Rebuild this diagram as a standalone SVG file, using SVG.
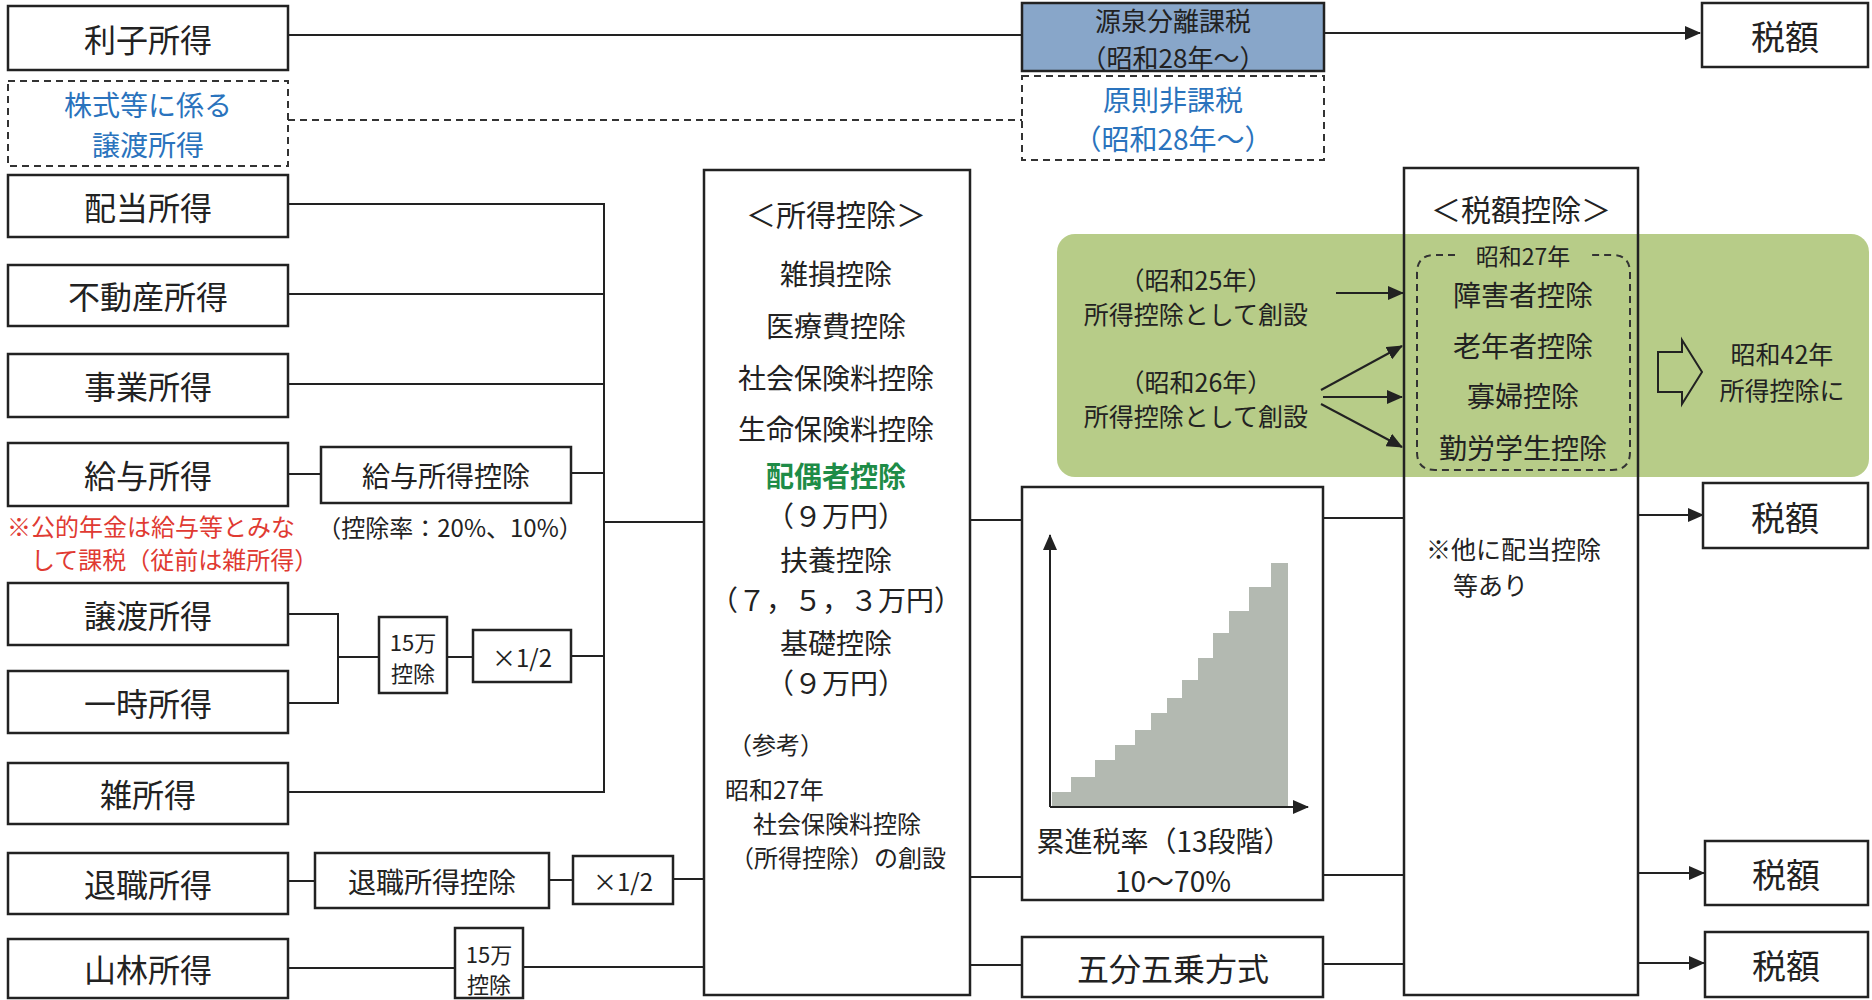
<svg xmlns="http://www.w3.org/2000/svg" width="1872" height="1000" viewBox="0 0 1872 1000">
<style>
.box{fill:#fff;stroke:#222;stroke-width:2.5}
.dbox{fill:#fff;stroke:#333;stroke-width:2;stroke-dasharray:7 5}
.ln{stroke:#222;stroke-width:2;fill:none}
.dln{stroke:#333;stroke-width:2;fill:none;stroke-dasharray:7 5}
.t{font-family:"Noto Sans CJK JP","Noto Sans CJK SC",sans-serif;fill:#222;text-anchor:middle;dominant-baseline:central}
.l{font-size:32px}
.m{font-size:28px}
.s{font-size:24px}
.g{font-size:25px}
.blue{fill:#2a73bd}
.red{fill:#e03a32;text-anchor:start}
</style>
<defs>
<marker id="ah" markerUnits="userSpaceOnUse" markerWidth="16" markerHeight="14" refX="15" refY="7" orient="auto">
<path d="M0,0 L16,7 L0,14 z" fill="#222"/>
</marker>
</defs>
<rect width="1872" height="1000" fill="#fff"/>

<g id="green-area">
<rect x="1057" y="234" width="812" height="243" rx="18" fill="#b7cc88"/>
</g>

<g id="connectors">
<path class="ln" d="M288,35 H1022"/>
<path class="ln" d="M1324,33 H1700" marker-end="url(#ah)"/>
<path class="dln" d="M288,120 H1022"/>
<path class="ln" d="M288,204 H604 V792 H288"/>
<path class="ln" d="M288,294 H604"/>
<path class="ln" d="M288,384 H604"/>
<path class="ln" d="M288,474 H321"/>
<path class="ln" d="M571,473 H604"/>
<path class="ln" d="M288,614 H338 V703 H288"/>
<path class="ln" d="M338,657 H379"/>
<path class="ln" d="M447,657 H473"/>
<path class="ln" d="M571,656 H604"/>
<path class="ln" d="M604,522 H704"/>
<path class="ln" d="M288,881 H315"/>
<path class="ln" d="M549,880 H573"/>
<path class="ln" d="M673,879 H704"/>
<path class="ln" d="M288,968 H455"/>
<path class="ln" d="M523,967 H704"/>
<path class="ln" d="M970,520 H1022"/>
<path class="ln" d="M970,877 H1022"/>
<path class="ln" d="M970,965 H1022"/>
<path class="ln" d="M1323,518 H1404"/>
<path class="ln" d="M1323,875 H1404"/>
<path class="ln" d="M1323,964 H1404"/>
<path class="ln" d="M1638,515 H1703" marker-end="url(#ah)"/>
<path class="ln" d="M1638,873 H1704" marker-end="url(#ah)"/>
<path class="ln" d="M1638,963 H1704" marker-end="url(#ah)"/>
<path class="ln" d="M1336,293 H1403" marker-end="url(#ah)"/>
<path class="ln" d="M1321,390 L1402,346" marker-end="url(#ah)"/>
<path class="ln" d="M1323,397 H1402" marker-end="url(#ah)"/>
<path class="ln" d="M1321,404 L1402,447" marker-end="url(#ah)"/>
</g>

<g id="n-rishi"><rect class="box" x="8" y="6" width="280" height="64"/><text class="t l" x="148" y="38">利子所得</text></g>
<g id="n-kabushiki"><rect class="dbox" x="8" y="81" width="280" height="85"/><text class="t m blue" x="148" y="104">株式等に係る</text><text class="t m blue" x="148" y="144">譲渡所得</text></g>
<g id="n-haito"><rect class="box" x="8" y="175" width="280" height="62"/><text class="t l" x="148" y="206">配当所得</text></g>
<g id="n-fudosan"><rect class="box" x="8" y="265" width="280" height="61"/><text class="t l" x="148" y="295">不動産所得</text></g>
<g id="n-jigyo"><rect class="box" x="8" y="354" width="280" height="63"/><text class="t l" x="148" y="385">事業所得</text></g>
<g id="n-kyuyo"><rect class="box" x="8" y="443" width="280" height="63"/><text class="t l" x="148" y="474">給与所得</text></g>
<g id="n-note"><text class="t s red" x="7" y="525">※公的年金は給与等とみな</text><text class="t s red" x="31" y="558">して課税（従前は雑所得）</text></g>
<g id="n-kyuyokojo"><rect class="box" x="321" y="447" width="250" height="56"/><text class="t m" x="446" y="475">給与所得控除</text><text class="t s" x="450" y="526">（控除率：20%、10%）</text></g>
<g id="n-joto"><rect class="box" x="8" y="583" width="280" height="62"/><text class="t l" x="148" y="614">譲渡所得</text></g>
<g id="n-ichiji"><rect class="box" x="8" y="671" width="280" height="62"/><text class="t l" x="148" y="702">一時所得</text></g>
<g id="n-15man1"><rect class="box" x="379" y="617" width="68" height="76"/><text class="t" style="font-size:22px" x="413" y="641">15万</text><text class="t" style="font-size:22px" x="413" y="672">控除</text></g>
<g id="n-half1"><rect class="box" x="473" y="630" width="98" height="52"/><text class="t s" x="522" y="656">×1/2</text></g>
<g id="n-zatsu"><rect class="box" x="8" y="763" width="280" height="61"/><text class="t l" x="148" y="793">雑所得</text></g>
<g id="n-taishoku"><rect class="box" x="8" y="853" width="280" height="61"/><text class="t l" x="148" y="883">退職所得</text></g>
<g id="n-taishokukojo"><rect class="box" x="315" y="853" width="234" height="55"/><text class="t m" x="432" y="881">退職所得控除</text></g>
<g id="n-half2"><rect class="box" x="573" y="856" width="100" height="48"/><text class="t s" x="623" y="880">×1/2</text></g>
<g id="n-sanrin"><rect class="box" x="8" y="939" width="280" height="59"/><text class="t l" x="148" y="968">山林所得</text></g>
<g id="n-15man2"><rect class="box" x="455" y="928" width="68" height="70"/><text class="t" style="font-size:22px" x="489" y="953">15万</text><text class="t" style="font-size:22px" x="489" y="983">控除</text></g>

<g id="n-gensen"><rect x="1022" y="3" width="302" height="68" fill="#88a6c9" stroke="#222" stroke-width="2.5"/><text class="t" style="font-size:26px" x="1173" y="19">源泉分離課税</text><text class="t" style="font-size:26px" x="1173" y="56">（昭和28年～）</text></g>
<g id="n-hikazei"><rect class="dbox" x="1022" y="76" width="302" height="84"/><text class="t m blue" x="1173" y="99">原則非課税</text><text class="t m blue" x="1173" y="138">（昭和28年～）</text></g>

<g id="n-shotokukojo">
<rect class="box" x="704" y="170" width="266" height="825"/>
<text class="t" style="font-size:30px" x="836" y="213">＜所得控除＞</text>
<text class="t m" x="836" y="273">雑損控除</text>
<text class="t m" x="836" y="325">医療費控除</text>
<text class="t m" x="836" y="377">社会保険料控除</text>
<text class="t m" x="836" y="428">生命保険料控除</text>
<text class="t m" x="836" y="475" style="fill:#1e8c47;font-weight:bold">配偶者控除</text>
<text class="t m" x="836" y="515">（９万円）</text>
<text class="t m" x="836" y="559">扶養控除</text>
<text class="t m" x="836" y="599">（７，５，３万円）</text>
<text class="t m" x="836" y="642">基礎控除</text>
<text class="t m" x="836" y="682">（９万円）</text>
<text class="t s" x="728" y="743" style="text-anchor:start">（参考）</text>
<text class="t s" x="725" y="788" style="text-anchor:start">昭和27年</text>
<text class="t s" x="753" y="822" style="text-anchor:start">社会保険料控除</text>
<text class="t s" x="730" y="856" style="text-anchor:start">（所得控除）の創設</text>
</g>

<g id="n-ruishin">
<rect class="box" x="1022" y="487" width="301" height="413"/>
<path d="M1052,807 V792 H1071 V777 H1095 V760 H1115 V745 H1135 V730 H1151 V713 H1167 V698 H1182 V680 H1198 V658 H1213 V633 H1229 V611 H1249 V587 H1271 V563 H1288 V807 Z" fill="#b3b9b1"/>
<path class="ln" d="M1050,807 V535" marker-end="url(#ah)"/>
<path class="ln" d="M1050,807 H1308" marker-end="url(#ah)"/>
<text class="t m" x="1164" y="840">累進税率（13段階）</text>
<text class="t m" x="1173" y="880">10～70%</text>
</g>

<g id="n-gobun"><rect class="box" x="1022" y="937" width="301" height="60"/><text class="t l" x="1173" y="967">五分五乗方式</text></g>

<g id="n-green-text">
<text class="t g" x="1196" y="279">（昭和25年）</text>
<text class="t g" x="1196" y="313">所得控除として創設</text>
<text class="t g" x="1196" y="381">（昭和26年）</text>
<text class="t g" x="1196" y="415">所得控除として創設</text>
</g>

<g id="n-zeigakukojo">
<rect x="1404" y="168" width="234" height="827" fill="none" stroke="#222" stroke-width="2.5"/>
<text class="t" style="font-size:30px" x="1521" y="208">＜税額控除＞</text>
<path class="dln" d="M1455,255 H1435 Q1417,255 1417,273 V452 Q1417,470 1435,470 H1612 Q1630,470 1630,452 V273 Q1630,255 1612,255 H1590"/>
<text class="t" style="font-size:23px" x="1523" y="255">昭和27年</text>
<text class="t m" x="1523" y="294">障害者控除</text>
<text class="t m" x="1523" y="345">老年者控除</text>
<text class="t m" x="1523" y="395">寡婦控除</text>
<text class="t m" x="1523" y="447">勤労学生控除</text>
<text class="t g" style="text-anchor:start" x="1426" y="548">※他に配当控除</text>
<text class="t g" style="text-anchor:start" x="1453" y="584">等あり</text>
</g>

<g id="n-s42">
<polygon points="1658,352 1682,352 1682,340 1702,372 1682,404 1682,392 1658,392" fill="none" stroke="#222" stroke-width="2"/>
<text class="t g" x="1782" y="353">昭和42年</text>
<text class="t g" x="1782" y="389">所得控除に</text>
</g>

<g id="n-zei1"><rect class="box" x="1702" y="3" width="166" height="64"/><text class="t" style="font-size:34px" x="1785" y="35">税額</text></g>
<g id="n-zei2"><rect class="box" x="1703" y="483" width="165" height="65"/><text class="t" style="font-size:34px" x="1785" y="516">税額</text></g>
<g id="n-zei3"><rect class="box" x="1705" y="841" width="163" height="64"/><text class="t" style="font-size:34px" x="1786" y="873">税額</text></g>
<g id="n-zei4"><rect class="box" x="1705" y="932" width="163" height="65"/><text class="t" style="font-size:34px" x="1786" y="964">税額</text></g>
</svg>
